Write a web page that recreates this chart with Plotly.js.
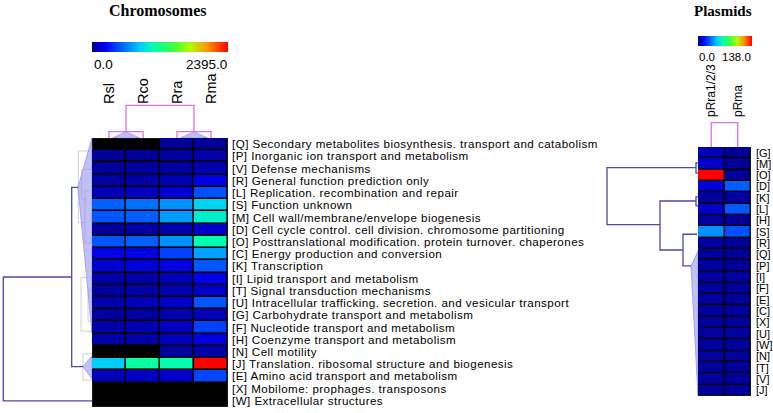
<!DOCTYPE html>
<html><head><meta charset="utf-8">
<script src="https://cdn.plot.ly/plotly-3.0.1.min.js"></script>
<style>html,body{margin:0;padding:0;background:#fff;}#chart{width:773px;height:413px;}
#chart .ytick text{letter-spacing:0.45px;}</style>
</head><body><div id="chart"></div>
<script>
// ---------- DATA ----------
const chromCols = ['Rsl','Rco','Rra','Rma'];
const chromCodes = ['Q','P','V','R','L','S','M','D','O','C','K','I','T','U','G','F','H','N','J','E','X','W'];
const chromDesc = [
 'Secondary metabolites biosynthesis. transport and catabolism',
 'Inorganic ion transport and metabolism',
 'Defense mechanisms',
 'General function prediction only',
 'Replication. recombination and repair',
 'Function unknown',
 'Cell wall/membrane/envelope biogenesis',
 'Cell cycle control. cell division. chromosome partitioning',
 'Posttranslational modification. protein turnover. chaperones',
 'Energy production and conversion',
 'Transcription',
 'Lipid transport and metabolism',
 'Signal transduction mechanisms',
 'Intracellular trafficking. secretion. and vesicular transport',
 'Carbohydrate transport and metabolism',
 'Nucleotide transport and metabolism',
 'Coenzyme transport and metabolism',
 'Cell motility',
 'Translation. ribosomal structure and biogenesis',
 'Amino acid transport and metabolism',
 'Mobilome: prophages. transposons',
 'Extracellular structures'];
const Rsl = [null, 45, 45, 60,106,527,500, 45,500,181,151, 75, 60, 90, 60, 75, 75,null, 860,106,null,null];
const Rco = [null, 45, 60, 75,120,575,527, 60,527,181,166, 75, 75,106, 60, 90, 75,null,1130,120,null,null];
const Rra = [  40, 60, 60, 90,166,671,700, 75,671,431,181,106, 90,136, 90,120,120, 60,1080,136,null,null];
const Rma = [  45, 75, 90,190,480,890,1000,136,1080,719,500,200,136,500,106,430,180, 75,2395,450,null,null];
const chromMax = 2395;

const plasCols = ['pRra1/2/3','pRma'];
const plasCodes = ['G','M','O','D','K','L','H','S','R','Q','P','I','F','E','C','X','U','W','N','T','V','J'];
const pRra = [6, 8, 138, 9.5, 2.6, 7.8, 3.4, 38.6, 3.4, 2.6, 3.4, 3.4, 3, 3.4, 3, 3, 3.4, 3, 3, 3.4, 3, 3];
const pRma = [2.6, 2.6, 2.6, 30, 3.4, 29, 2.6, 27.6, 2.6, 2.6, 2.6, 3.4, 3, 3, 3, 3.4, 3, 3, 3, 3, 3, 3.4];
const plasMax = 138;

// dendrograms (scipy-like: icoord = leaf positions, dcoord = linkage heights)
const chromRowLinks = [
 {i:[10.87,10.87,21,21], d:[20.3,88.7,88.7,0]},
 {i:[3.53,3.53,18.2,18.2], d:[14,20.3,20.3,9]}];
const chromRowGrey = [
 {i:[0.56,0.56,6.43,6.43], d:[0,13.7,13.7,8]},
 {i:[2.06,2.06,4.5,4.5], d:[0,10.3,10.3,5]},
 {i:[3.8,3.8,8.1,8.1], d:[3,7,7,0]},
 {i:[10.9,10.9,15.3,15.3], d:[5,11,11,0]},
 {i:[12,12,14.5,14.5], d:[0,4,4,0]},
 {i:[17.15,17.15,19.3,19.3], d:[0,9,9,0]}];
const chromRowCollapsed = [
 {i:[3.53,-0.5,15.5], d:[14,0,0]},
 {i:[18.2,17.3,19.2], d:[9,0,0]}];
const chromColLinks = [
 {i:[0,0,1,1], d:[0,6.3,6.3,0]},
 {i:[2,2,3,3], d:[0,6.3,6.3,0]},
 {i:[0.5,0.5,2.5,2.5], d:[6.3,32.7,32.7,6.3]}];
const chromColCollapsed = [
 {i:[0.5,0.1,0.9], d:[6.3,0,0]},
 {i:[2.5,2.1,2.9], d:[6.3,0,0]}];

const plasRowLinks = [
 {i:[1.33,1.33,6.35,6.35], d:[2,91,91,38]},
 {i:[4.27,4.27,8.6,8.6], d:[2,38,38,15]},
 {i:[7.21,7.21,10,10], d:[1,15,15,7]},
 {i:[0.9,0.9,1.8,1.8], d:[0,2,2,0]},
 {i:[3.9,3.9,4.7,4.7], d:[0,2,2,0]}];
const plasRowCollapsed = [
 {i:[10,8.7,21.5], d:[7,0,0]}];
const plasColLinks = [
 {i:[0,0,1,1], d:[0,24.3,24.3,0]}];

// ---------- LAYOUT HELPERS ----------
const W = 773, H = 413;
const px = x => x / W;
const py = y => 1 - y / H;

const jet = [[0,'#000080'],[0.1,'#0000ff'],[0.35,'#00c8ff'],[0.45,'#00ffb0'],
             [0.6,'#40ff40'],[0.72,'#b0ff00'],[0.85,'#ff9000'],[1,'#ff0000']];

function transpose(cols){ return cols[0].map((_,r)=>cols.map(c=>c[r])); }

function cbar(xc, ytop, len){
  return {orientation:'h', x:xc, xanchor:'center', y:ytop, yanchor:'top',
    len:len, lenmode:'pixels', thickness:10, thicknessmode:'pixels',
    outlinewidth:0, showticklabels:false, ticks:'', xpad:0, ypad:0};
}

const traces = [];
traces.push({type:'heatmap', x:chromCols.map((_,k)=>k), y:chromCodes.map((_,k)=>k),
  z:transpose([Rsl,Rco,Rra,Rma]), zmin:0, zmax:chromMax, colorscale:jet,
  xgap:1.6, ygap:1.6, hoverinfo:'skip', xaxis:'x', yaxis:'y',
  colorbar:cbar(px(160), py(42), 136)});
traces.push({type:'heatmap', x:plasCols.map((_,k)=>k), y:plasCodes.map((_,k)=>k),
  z:transpose([pRra,pRma]), zmin:0, zmax:plasMax, colorscale:jet,
  xgap:1.4, ygap:1.4, hoverinfo:'skip', xaxis:'x3', yaxis:'y3',
  colorbar:cbar(px(725), py(36), 54)});

function linkTraces(links, rowwise, xa, ya, color, width){
  const xs=[], ys=[];
  links.forEach(l=>{
    for(let k=0;k<4;k++){
      if(rowwise){ xs.push(l.d[k]); ys.push(l.i[k]); }
      else { xs.push(l.i[k]); ys.push(l.d[k]); }
    }
    xs.push(null); ys.push(null);
  });
  return {type:'scatter', mode:'lines', x:xs, y:ys, xaxis:xa, yaxis:ya,
    line:{color:color, width:width}, hoverinfo:'skip', showlegend:false};
}
function triTraces(tris, rowwise, xa, ya){
  return tris.map(t=>{
    const xs = rowwise ? t.d.concat([t.d[0]]) : t.i.concat([t.i[0]]);
    const ys = rowwise ? t.i.concat([t.i[0]]) : t.d.concat([t.d[0]]);
    return {type:'scatter', mode:'lines', x:xs, y:ys, xaxis:xa, yaxis:ya, fill:'toself',
      fillcolor:'rgba(140,140,240,0.55)', line:{color:'rgba(150,150,240,0.8)', width:1},
      hoverinfo:'skip', showlegend:false};
  });
}
traces.push(linkTraces(chromRowGrey, true, 'x2', 'y', '#cfcfcf', 1));
triTraces(chromRowCollapsed, true, 'x2', 'y').forEach(t=>traces.push(t));
traces.push(linkTraces(chromRowLinks, true, 'x2', 'y', '#4a4aa2', 1.3));
triTraces(chromColCollapsed, false, 'x', 'y2').forEach(t=>traces.push(t));
traces.push(linkTraces(chromColLinks, false, 'x', 'y2', '#e070e8', 1.3));
triTraces(plasRowCollapsed, true, 'x4', 'y3').forEach(t=>traces.push(t));
traces.push(linkTraces(plasRowLinks, true, 'x4', 'y3', '#4a4aa2', 1.3));
traces.push(linkTraces(plasColLinks, false, 'x3', 'y4', '#e070e8', 1.3));

const hid = {visible:false, showgrid:false, zeroline:false, fixedrange:true};
const lblFont = {family:'Liberation Sans, Arial, sans-serif', color:'#000'};

const layout = {
  width:W, height:H, margin:{l:0,r:0,t:0,b:0},
  paper_bgcolor:'#fff', plot_bgcolor:'rgba(0,0,0,0)', showlegend:false,
  xaxis:{domain:[px(92),px(228)], range:[-0.5,3.5], side:'top', anchor:'y',
    tickvals:chromCols.map((_,k)=>k), ticktext:chromCols, tickangle:-90, ticks:'',
    ticklabelstandoff:33, showgrid:false, zeroline:false, showline:false,
    tickfont:Object.assign({size:14.5}, lblFont)},
  yaxis:{domain:[py(407),py(138)], range:[21.5,-0.5], side:'right', anchor:'x',
    tickvals:chromCodes.map((_,k)=>k),
    ticktext:chromCodes.map((c,k)=>'['+c+'] '+chromDesc[k]), ticks:'',
    ticklabelstandoff:3, showgrid:false, zeroline:false, showline:false,
    tickfont:Object.assign({size:11.6}, lblFont)},
  xaxis2:Object.assign({domain:[0,px(92)], range:[92,0], anchor:'y'}, hid),
  yaxis2:Object.assign({domain:[py(138),py(100)], range:[0,38], anchor:'x'}, hid),
  xaxis3:{domain:[px(698),px(751)], range:[-0.5,1.5], side:'top', anchor:'y3',
    tickvals:plasCols.map((_,k)=>k), ticktext:plasCols, tickangle:-90, ticks:'',
    ticklabelstandoff:29, showgrid:false, zeroline:false, showline:false,
    tickfont:Object.assign({size:12}, lblFont)},
  yaxis3:{domain:[py(396),py(147)], range:[21.5,-0.5], side:'right', anchor:'x3',
    tickvals:plasCodes.map((_,k)=>k), ticktext:plasCodes.map(c=>'['+c+']'), ticks:'',
    ticklabelstandoff:4, showgrid:false, zeroline:false, showline:false,
    tickfont:Object.assign({size:11}, lblFont)},
  xaxis4:Object.assign({domain:[px(600),px(698)], range:[98,0], anchor:'y3'}, hid),
  yaxis4:Object.assign({domain:[py(147),py(115)], range:[0,32], anchor:'x3'}, hid),
  shapes:[
    {type:'rect', xref:'x', yref:'y', layer:'below', x0:-0.5, x1:chromCols.length-0.5,
     y0:-0.5, y1:chromCodes.length-0.5, fillcolor:'#000', line:{color:'#333', width:1}},
    {type:'rect', xref:'x3', yref:'y3', layer:'below', x0:-0.5, x1:plasCols.length-0.5,
     y0:-0.5, y1:plasCodes.length-0.5, fillcolor:'#000', line:{color:'#333', width:1}}
  ],
  annotations:[
    {text:'<b>Chromosomes</b>', xref:'paper', yref:'paper', x:px(157), y:py(10),
     xanchor:'center', yanchor:'middle', showarrow:false,
     font:{family:'Liberation Serif, Times New Roman, serif', size:16, color:'#000'}},
    {text:'<b>Plasmids</b>', xref:'paper', yref:'paper', x:px(723), y:py(11),
     xanchor:'center', yanchor:'middle', showarrow:false,
     font:{family:'Liberation Serif, Times New Roman, serif', size:15, color:'#000'}},
    {text:(0).toFixed(1), xref:'paper', yref:'paper', x:px(92), y:py(65),
     xanchor:'left', yanchor:'middle', showarrow:false, font:Object.assign({size:13.5}, lblFont)},
    {text:chromMax.toFixed(1), xref:'paper', yref:'paper', x:px(229), y:py(65),
     xanchor:'right', yanchor:'middle', showarrow:false, font:Object.assign({size:13.5}, lblFont)},
    {text:(0).toFixed(1), xref:'paper', yref:'paper', x:px(697), y:py(57),
     xanchor:'left', yanchor:'middle', showarrow:false, font:Object.assign({size:11.5}, lblFont)},
    {text:plasMax.toFixed(1), xref:'paper', yref:'paper', x:px(753), y:py(57),
     xanchor:'right', yanchor:'middle', showarrow:false, font:Object.assign({size:11.5}, lblFont)}
  ]
};

Plotly.newPlot('chart', traces, layout, {staticPlot:true, displayModeBar:false});
</script>
</body></html>
